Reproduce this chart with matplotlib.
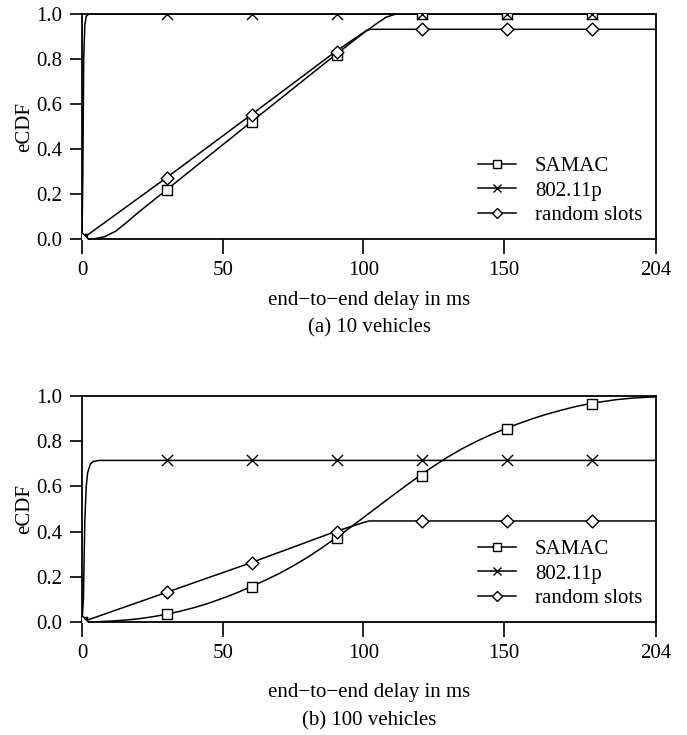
import matplotlib
matplotlib.use("Agg")
import matplotlib.pyplot as plt

plt.rcParams['font.family'] = ['Liberation Serif', 'DejaVu Serif']

# ---------------- data ----------------
series_names = ["SAMAC", "802.11p", "random slots"]
marker_x = [0, 30.2, 60.4, 90.6, 120.8, 151.0, 181.2]

# (a) 10 vehicles
a_samac_x = [0, 4, 8, 12, 16, 20, 30, 60, 90, 100, 105, 108, 111, 113, 204]
a_samac_y = [0, 0.0, 0.01, 0.035, 0.075, 0.118, 0.218, 0.519, 0.818, 0.915, 0.96, 0.985, 0.998, 1.0, 1.0]
a_samac_m = [0, 0.218, 0.519, 0.818, 1.0, 1.0, 1.0]

a_wifi_x = [0, 0.3, 0.6, 1.0, 1.5, 2.5, 204]
a_wifi_y = [0, 0.3, 0.8, 0.95, 0.99, 1.0, 1.0]
a_wifi_m = [0, 1.0, 1.0, 1.0, 1.0, 1.0, 1.0]

a_rand_x = [0, 30, 60, 90, 101, 102.5, 204]
a_rand_y = [0, 0.272, 0.551, 0.832, 0.926, 0.932, 0.932]
a_rand_m = [0, 0.272, 0.551, 0.832, 0.932, 0.932, 0.932]

# (b) 100 vehicles
b_samac_x = [0, 5, 10, 15, 20, 25, 30, 35, 40, 45, 50, 55, 60, 65, 70, 75, 80, 85, 90, 95, 100,
             105, 110, 115, 120, 125, 130, 135, 140, 145, 150, 155, 160, 165, 170, 175, 180,
             185, 190, 195, 200, 204]
b_samac_y = [0, 0.001, 0.004, 0.008, 0.014, 0.023, 0.034, 0.048, 0.064, 0.083, 0.105, 0.129, 0.156,
             0.184, 0.214, 0.248, 0.285, 0.326, 0.37, 0.415, 0.462, 0.509, 0.556, 0.602, 0.647, 0.69,
             0.73, 0.766, 0.798, 0.827, 0.853, 0.877, 0.899, 0.919, 0.936, 0.952, 0.965, 0.975,
             0.984, 0.99, 0.994, 0.996]
b_samac_m = [0, 0.034, 0.156, 0.37, 0.647, 0.853, 0.966]

b_wifi_x = [0, 0.5, 1.0, 1.5, 2.0, 3.0, 4.0, 6.0, 204]
b_wifi_y = [0, 0.1, 0.45, 0.6, 0.66, 0.70, 0.71, 0.715, 0.715]
b_wifi_m = [0, 0.715, 0.715, 0.715, 0.715, 0.715, 0.715]

b_rand_x = [0, 30, 60, 90, 100, 102, 204]
b_rand_y = [0, 0.131, 0.262, 0.40, 0.44, 0.447, 0.447]
b_rand_m = [0, 0.131, 0.262, 0.40, 0.447, 0.447, 0.447]

x_ticks = [0, 50, 100, 150, 204]
y_ticks = [0.0, 0.2, 0.4, 0.6, 0.8, 1.0]
xlabel = "end\u2212to\u2212end delay in ms"
ylabel = "eCDF"
captions = ["(a) 10 vehicles", "(b) 100 vehicles"]

markers = ["s", "x", "D"]
msizes = [7, 8, 6.5]

# ---------------- figure ----------------
fig = plt.figure(figsize=(6.87, 7.35), dpi=100)
W, H = 687, 735
def rect(l, t, r, b):
    return [l / W, 1 - b / H, (r - l) / W, (b - t) / H]

ax_a = fig.add_axes(rect(82, 14, 656, 239))
ax_b = fig.add_axes(rect(82, 396, 656, 622))

panels = [
    (ax_a, [(a_samac_x, a_samac_y, a_samac_m), (a_wifi_x, a_wifi_y, a_wifi_m), (a_rand_x, a_rand_y, a_rand_m)],
     captions[0], 61, 89),
    (ax_b, [(b_samac_x, b_samac_y, b_samac_m), (b_wifi_x, b_wifi_y, b_wifi_m), (b_rand_x, b_rand_y, b_rand_m)],
     captions[1], 70, 98),
]

FS = 15
AX_H = 225.0
for ax, series, cap, xl_off, cap_off in panels:
    handles = []
    for (xs, ys, ms), name, mk, msz in zip(series, series_names, markers, msizes):
        ax.plot(xs, ys, color="black", lw=1.1)
        if mk == "x":
            ax.scatter(marker_x, ms, marker=mk, s=msz ** 2, c="black", linewidths=1.0, zorder=3)
        else:
            ax.scatter(marker_x, ms, marker=mk, s=msz ** 2, facecolors="white", edgecolors="black",
                       linewidths=1.0, zorder=3)
        h, = ax.plot([], [], color="black", lw=1.1, marker=mk, ms=msz, mfc="white", mec="black", mew=1.0)
        handles.append((h, name))
    ax.set_xlim(0, 204)
    ax.set_ylim(0, 1)
    ax.set_xticks(x_ticks)
    ax.set_xticklabels([str(t) for t in x_ticks])
    ax.set_yticks(y_ticks)
    ax.set_yticklabels([f"{t:.1f}" for t in y_ticks])
    ax.tick_params(axis="x", direction="out", length=11, width=1.2, pad=4.5, labelsize=FS)
    ax.tick_params(axis="y", direction="out", length=9, width=1.2, pad=5, labelsize=FS)
    for s in ax.spines.values():
        s.set_linewidth(1.3)
    ax.set_xlabel(xlabel, fontsize=FS, va="center")
    ax.xaxis.set_label_coords(0.5, -xl_off / AX_H)
    ax.set_ylabel(ylabel, fontsize=FS, labelpad=2)
    leg = ax.legend([h for h, _ in handles], [n for _, n in handles], loc="lower right", frameon=False,
                    fontsize=FS, handlelength=1.85, handletextpad=0.9, labelspacing=0.25, markerscale=0.8,
                    borderaxespad=0.25, bbox_to_anchor=(1.0, 0.0))
    ax.text(0.5, -cap_off / AX_H, cap, transform=ax.transAxes, ha="center", va="center", fontsize=FS)

fig.savefig("out.png", dpi=100)
